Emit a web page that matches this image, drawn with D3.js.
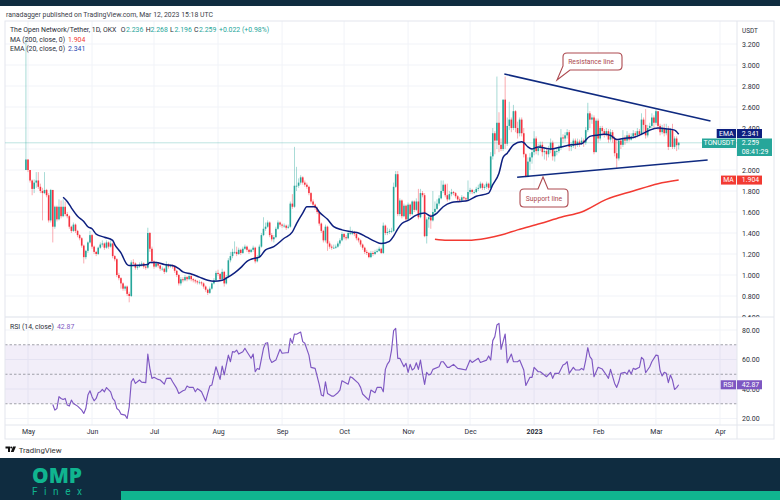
<!DOCTYPE html>
<html>
<head>
<meta charset="utf-8">
<script src="https://cdn.jsdelivr.net/npm/d3@7"></script>
<style>
  html, body { margin: 0; padding: 0; background: #fff; }
  svg { display: block; }
  text { font-family: Roboto, sans-serif; }
</style>
</head>
<body>
<div id="chart"></div>
<script>
// daily candles, first one is Apr 30 2022, open is the close of the day before
var firstDay = new Date(2022, 3, 30);
var firstOpen = 2.00;

var closes = [
  2.10, 2.00, 1.90, 1.82, 1.88, 1.90, 1.84, 1.80, 1.78, 1.81,
  1.76, 1.52, 1.81, 1.46, 1.65, 1.53, 1.65, 1.56, 1.65, 1.58,
  1.56, 1.46, 1.42, 1.48, 1.42, 1.38, 1.35, 1.28, 1.17, 1.23,
  1.31, 1.38, 1.27, 1.22, 1.20, 1.26, 1.29, 1.30, 1.26, 1.31,
  1.27, 1.30, 1.18, 1.15, 1.00, 0.97, 0.92, 0.87, 0.89, 0.82,
  0.80, 1.12, 1.11, 1.07, 1.08, 1.10, 1.11, 1.08, 1.07, 1.40,
  1.25, 1.13, 1.08, 1.11, 1.09, 1.06, 1.06, 1.03, 1.10, 1.08,
  1.09, 1.08, 1.04, 1.00, 0.92, 0.96, 0.95, 0.98, 0.96, 0.99,
  0.96, 0.95, 0.94, 0.93, 0.93, 0.92, 0.89, 0.86, 0.83, 0.87,
  0.92, 0.95, 1.02, 1.01, 0.96, 1.03, 0.92, 0.98, 1.14, 1.18,
  1.22, 1.22, 1.20, 1.24, 1.21, 1.25, 1.27, 1.24, 1.22, 1.24,
  1.26, 1.13, 1.17, 1.27, 1.38, 1.44, 1.46, 1.50, 1.38, 1.34,
  1.36, 1.44, 1.50, 1.48, 1.47, 1.47, 1.45, 1.46, 1.68, 1.65,
  1.85, 1.85, 1.88, 1.93, 1.88, 1.86, 1.84, 1.78, 1.70, 1.67,
  1.64, 1.60, 1.49, 1.42, 1.33, 1.46, 1.30, 1.27, 1.26, 1.26,
  1.27, 1.30, 1.33, 1.39, 1.36, 1.35, 1.40, 1.40, 1.40, 1.39,
  1.35, 1.33, 1.29, 1.26, 1.22, 1.21, 1.17, 1.21, 1.20, 1.22,
  1.23, 1.25, 1.21, 1.47, 1.40, 1.41, 1.42, 1.42, 1.84, 1.96,
  1.58, 1.71, 1.56, 1.66, 1.53, 1.67, 1.58, 1.70, 1.62, 1.70,
  1.55, 1.78, 1.76, 1.37, 1.53, 1.55, 1.52, 1.60, 1.63, 1.68,
  1.73, 1.80, 1.86, 1.76, 1.72, 1.77, 1.79, 1.78, 1.75, 1.72,
  1.71, 1.74, 1.73, 1.72, 1.79, 1.81, 1.79, 1.79, 1.82, 1.83,
  1.87, 1.83, 1.84, 1.87, 1.83, 2.13, 2.35, 2.28, 2.45, 2.24,
  2.20, 2.67, 2.25, 2.42, 2.48, 2.40, 2.56, 2.40, 2.35, 2.48,
  2.35, 2.15, 1.94, 2.08, 2.12, 2.17, 2.30, 2.18, 2.21, 2.24,
  2.17, 2.18, 2.15, 2.19, 2.26, 2.13, 2.18, 2.18, 2.21, 2.31,
  2.30, 2.33, 2.36, 2.22, 2.23, 2.28, 2.24, 2.27, 2.25, 2.28,
  2.26, 2.38, 2.54, 2.48, 2.50, 2.17, 2.47, 2.30, 2.40, 2.37,
  2.34, 2.37, 2.29, 2.36, 2.30, 2.16, 2.11, 2.28, 2.24, 2.30,
  2.28, 2.33, 2.29, 2.32, 2.35, 2.33, 2.37, 2.34, 2.48, 2.43,
  2.33, 2.40, 2.42, 2.50, 2.45, 2.56, 2.42, 2.36, 2.40, 2.35,
  2.39, 2.22, 2.38, 2.22, 2.30, 2.236, 2.259
];

var highs = [
  3.26, 2.10, 2.00, 1.91, 1.91, 1.98, 1.98, 1.87, 1.83, 1.98,
  1.82, 1.78, 1.82, 1.81, 1.66, 1.66, 1.72, 1.71, 1.72, 1.70,
  1.60, 1.57, 1.47, 1.50, 1.49, 1.43, 1.39, 1.36, 1.29, 1.24,
  1.32, 1.42, 1.39, 1.28, 1.23, 1.27, 1.31, 1.33, 1.31, 1.33,
  1.32, 1.33, 1.31, 1.19, 1.16, 1.02, 0.98, 0.93, 0.90, 0.90,
  0.84, 1.14, 1.15, 1.12, 1.10, 1.12, 1.13, 1.12, 1.09, 1.45,
  1.41, 1.27, 1.14, 1.13, 1.12, 1.10, 1.08, 1.07, 1.13, 1.11,
  1.10, 1.10, 1.09, 1.05, 1.01, 0.98, 0.98, 1.00, 0.99, 1.01,
  1.00, 0.97, 0.96, 0.95, 0.95, 0.94, 0.93, 0.90, 0.87, 0.89,
  0.93, 0.97, 1.04, 1.05, 1.02, 1.06, 1.04, 1.00, 1.16, 1.22,
  1.25, 1.32, 1.27, 1.26, 1.25, 1.27, 1.29, 1.28, 1.25, 1.25,
  1.28, 1.27, 1.19, 1.29, 1.40, 1.55, 1.50, 1.52, 1.51, 1.40,
  1.38, 1.46, 1.52, 1.51, 1.49, 1.49, 1.48, 1.48, 1.70, 1.77,
  2.22, 2.03, 1.92, 1.95, 1.94, 1.90, 1.88, 1.85, 1.79, 1.72,
  1.68, 1.65, 1.61, 1.50, 1.43, 1.48, 1.47, 1.32, 1.29, 1.29,
  1.29, 1.32, 1.35, 1.41, 1.40, 1.38, 1.42, 1.46, 1.43, 1.42,
  1.40, 1.36, 1.34, 1.30, 1.27, 1.24, 1.22, 1.23, 1.23, 1.24,
  1.25, 1.27, 1.26, 1.50, 1.48, 1.45, 1.44, 1.45, 1.88, 1.99,
  1.99, 1.73, 1.72, 1.68, 1.67, 1.69, 1.68, 1.71, 1.71, 1.73,
  1.82, 1.82, 1.80, 1.78, 1.55, 1.58, 1.58, 1.80, 1.70, 1.72,
  1.76, 1.90, 1.90, 1.87, 1.87, 1.80, 1.82, 1.80, 1.79, 1.76,
  1.74, 1.76, 1.75, 1.74, 1.90, 1.83, 1.82, 1.81, 1.84, 1.86,
  1.89, 1.88, 1.86, 1.89, 1.88, 2.17, 2.40, 2.37, 2.89, 2.55,
  2.30, 2.67, 2.89, 2.50, 2.65, 2.50, 2.62, 2.57, 2.46, 2.50,
  2.50, 2.40, 2.16, 2.12, 2.16, 2.20, 2.37, 2.32, 2.25, 2.27,
  2.27, 2.22, 2.20, 2.23, 2.30, 2.28, 2.20, 2.21, 2.24, 2.39,
  2.34, 2.36, 2.39, 2.38, 2.26, 2.30, 2.30, 2.30, 2.29, 2.31,
  2.30, 2.41, 2.64, 2.56, 2.53, 2.52, 2.49, 2.49, 2.42, 2.42,
  2.39, 2.40, 2.39, 2.39, 2.38, 2.32, 2.30, 2.30, 2.30, 2.38,
  2.33, 2.37, 2.35, 2.35, 2.38, 2.37, 2.40, 2.39, 2.54, 2.50,
  2.58, 2.43, 2.45, 2.54, 2.52, 2.58, 2.56, 2.44, 2.43, 2.44,
  2.44, 2.42, 2.40, 2.44, 2.32, 2.32, 2.268
];

var lows = [
  2.00, 1.98, 1.88, 1.76, 1.78, 1.83, 1.82, 1.78, 1.52, 1.77,
  1.74, 1.50, 1.50, 1.31, 1.44, 1.51, 1.52, 1.54, 1.55, 1.56,
  1.54, 1.44, 1.40, 1.41, 1.40, 1.36, 1.33, 1.26, 1.11, 1.15,
  1.21, 1.30, 1.25, 1.20, 1.18, 1.19, 1.25, 1.27, 1.24, 1.25,
  1.25, 1.26, 1.16, 1.13, 0.98, 0.95, 0.87, 0.85, 0.85, 0.80,
  0.74, 0.79, 1.09, 1.05, 1.05, 1.07, 1.08, 1.06, 1.05, 1.06,
  1.22, 1.11, 1.06, 1.07, 1.07, 1.04, 1.04, 1.01, 1.02, 1.06,
  1.07, 1.06, 1.02, 0.98, 0.90, 0.90, 0.93, 0.94, 0.94, 0.95,
  0.94, 0.93, 0.92, 0.91, 0.91, 0.90, 0.87, 0.84, 0.81, 0.82,
  0.86, 0.91, 0.94, 0.99, 0.94, 0.95, 0.89, 0.91, 0.97, 1.12,
  1.16, 1.20, 1.18, 1.19, 1.19, 1.20, 1.24, 1.22, 1.20, 1.21,
  1.22, 1.11, 1.12, 1.16, 1.26, 1.37, 1.42, 1.45, 1.36, 1.32,
  1.31, 1.35, 1.43, 1.46, 1.45, 1.45, 1.43, 1.44, 1.45, 1.63,
  1.64, 1.80, 1.83, 1.86, 1.86, 1.84, 1.82, 1.76, 1.68, 1.65,
  1.62, 1.58, 1.47, 1.40, 1.31, 1.31, 1.23, 1.25, 1.24, 1.25,
  1.25, 1.26, 1.28, 1.32, 1.34, 1.33, 1.34, 1.38, 1.38, 1.37,
  1.33, 1.31, 1.27, 1.24, 1.20, 1.19, 1.16, 1.16, 1.18, 1.19,
  1.21, 1.22, 1.20, 1.20, 1.38, 1.38, 1.39, 1.40, 1.41, 1.83,
  1.56, 1.56, 1.54, 1.55, 1.51, 1.52, 1.56, 1.57, 1.60, 1.61,
  1.53, 1.54, 1.74, 1.36, 1.30, 1.45, 1.44, 1.51, 1.58, 1.62,
  1.66, 1.72, 1.78, 1.74, 1.70, 1.71, 1.75, 1.76, 1.73, 1.70,
  1.69, 1.70, 1.71, 1.70, 1.71, 1.77, 1.77, 1.77, 1.78, 1.80,
  1.82, 1.81, 1.81, 1.82, 1.81, 1.82, 2.10, 2.15, 2.20, 2.17,
  2.18, 2.18, 2.20, 2.23, 2.38, 2.36, 2.38, 2.36, 2.30, 2.32,
  2.32, 2.12, 1.93, 1.93, 2.00, 2.06, 2.14, 2.15, 2.14, 2.18,
  2.13, 2.10, 2.09, 2.12, 2.16, 2.09, 2.08, 2.14, 2.16, 2.19,
  2.26, 2.27, 2.30, 2.18, 2.18, 2.21, 2.20, 2.22, 2.22, 2.24,
  2.22, 2.24, 2.36, 2.40, 2.44, 2.15, 2.17, 2.26, 2.28, 2.33,
  2.31, 2.32, 2.26, 2.27, 2.26, 2.13, 2.01, 2.09, 2.20, 2.22,
  2.24, 2.26, 2.27, 2.28, 2.30, 2.30, 2.31, 2.32, 2.33, 2.36,
  2.30, 2.31, 2.37, 2.40, 2.40, 2.43, 2.38, 2.33, 2.34, 2.32,
  2.33, 2.19, 2.22, 2.20, 2.20, 2.18, 2.196
];

// EMA 20 (day number, value)
var emaDays = [18, 20, 22, 25, 28, 30, 32, 34, 38, 42, 43, 46, 49, 50, 52, 59, 60, 63, 67, 71,
  74, 76, 80, 84, 88, 91, 95, 97, 101, 104, 107, 109, 113, 116, 120, 125, 129, 131, 134, 136,
  140, 142, 146, 149, 153, 158, 161, 165, 169, 172, 176, 178, 180, 182, 185, 189, 193, 196, 199, 202,
  206, 210, 214, 218, 224, 226, 229, 231, 233, 236, 240, 241, 243, 245, 248, 254, 259, 264, 269, 273,
  276, 280, 283, 286, 289, 294, 299, 302, 306, 311, 314, 316];
var emaValues = [1.74, 1.70, 1.64, 1.56, 1.51, 1.46, 1.44, 1.39, 1.36, 1.33, 1.29, 1.21, 1.10, 1.09, 1.09, 1.10, 1.12, 1.12, 1.10, 1.09,
  1.06, 1.03, 1.01, 0.98, 0.95, 0.94, 0.95, 0.97, 1.02, 1.07, 1.13, 1.15, 1.17, 1.24, 1.27, 1.35, 1.41, 1.49, 1.59, 1.65,
  1.65, 1.60, 1.53, 1.46, 1.43, 1.41, 1.40, 1.36, 1.32, 1.30, 1.32, 1.37, 1.44, 1.49, 1.52, 1.57, 1.59, 1.56, 1.59, 1.65,
  1.69, 1.70, 1.71, 1.75, 1.78, 1.86, 1.97, 2.12, 2.16, 2.24, 2.27, 2.26, 2.22, 2.20, 2.22, 2.20, 2.22, 2.24, 2.25, 2.32,
  2.33, 2.34, 2.33, 2.29, 2.30, 2.31, 2.35, 2.38, 2.40, 2.39, 2.38, 2.341];

// MA 200
var maDays = [198, 204, 214, 223, 230, 238, 249, 259, 269, 281, 294, 306, 316];
var maValues = [1.34, 1.33, 1.33, 1.35, 1.38, 1.43, 1.49, 1.55, 1.60, 1.72, 1.80, 1.87, 1.904];

// RSI 14
var rsiDays = [13, 14, 15, 16, 17, 18, 19, 20, 21, 22, 23, 25, 27, 28, 29, 30, 31, 32, 33, 34,
  35, 36, 37, 38, 39, 41, 42, 43, 44, 45, 46, 48, 49, 50, 51, 52, 53, 55, 56, 58,
  59, 60, 61, 62, 64, 65, 67, 68, 70, 71, 73, 74, 76, 77, 78, 79, 81, 82, 83, 84,
  85, 87, 88, 89, 90, 92, 94, 95, 96, 98, 99, 100, 101, 102, 103, 105, 106, 107, 109, 110,
  111, 112, 113, 115, 116, 117, 118, 119, 121, 123, 124, 126, 127, 128, 129, 130, 131, 133, 134, 135,
  137, 138, 140, 142, 143, 144, 145, 146, 148, 149, 151, 152, 153, 156, 157, 158, 161, 162, 163, 166,
  167, 169, 170, 172, 173, 174, 175, 176, 177, 178, 179, 180, 181, 183, 184, 185, 186, 187, 188, 189,
  190, 191, 192, 193, 194, 195, 196, 197, 200, 201, 202, 204, 205, 207, 209, 211, 213, 215, 216, 219,
  220, 223, 224, 225, 226, 227, 228, 229, 230, 231, 232, 233, 235, 236, 238, 239, 241, 242, 244, 245,
  246, 248, 249, 251, 252, 254, 255, 256, 258, 260, 261, 262, 263, 265, 266, 268, 269, 270, 271, 272,
  273, 274, 275, 277, 279, 281, 282, 283, 285, 286, 287, 288, 290, 291, 292, 293, 294, 295, 297, 298,
  299, 300, 302, 303, 305, 306, 307, 308, 309, 310, 311, 312, 313, 314, 315, 316];
var rsiValues = [29.5, 25.7, 26.8, 34.8, 33.6, 32.9, 33.6, 29.1, 28.4, 32.5, 30.2, 28.4, 25.7, 23.4, 26.8, 35.9, 38.8, 34.8, 32, 33.6,
  37.5, 38.1, 39.7, 38.1, 41, 38.1, 33.6, 32, 26.8, 25.7, 23, 22.3, 20, 27.9, 44.9, 47, 43.8, 46.1, 44.7, 44.3,
  63.7, 54, 47.2, 47.9, 46.5, 46.1, 43.3, 47.2, 47.4, 44.9, 40.4, 37, 38.8, 39.3, 42, 41.1, 41.1, 38.1, 40.2, 39.3,
  38.1, 31.8, 37, 42, 42.7, 55.1, 46.5, 55.6, 49.5, 63, 58.5, 65.3, 65, 66.4, 63.7, 65.3, 67.6, 65.3, 60.8, 63.7,
  51.7, 53.9, 53.3, 67.6, 71, 71.4, 60.8, 58, 59.6, 66.9, 64.2, 64.6, 64.6, 74.3, 71, 77.3, 77.1, 78.6, 72.1, 71,
  63, 54.7, 54, 42.9, 36, 35.2, 44.9, 37, 35.2, 35.2, 37.5, 39.3, 45.6, 43.3, 48.3, 47.6, 43.8, 41.1, 36.6, 32.5,
  39.3, 37.5, 41.1, 41.1, 38.1, 53.3, 56.9, 58.9, 66.4, 79.6, 81.1, 60.8, 60.8, 55.1, 57.4, 51.3, 56.7, 52.9, 54, 57.8,
  53.3, 59.6, 50.6, 43.1, 51.3, 49.5, 50.1, 53.3, 55.1, 58.5, 58.5, 54.7, 54.7, 56.7, 54, 53.5, 52.9, 59.6, 58, 60.8,
  58, 59.6, 62.4, 59.6, 72.8, 75.5, 83.4, 84.5, 66.9, 72.1, 77.3, 57.8, 63.7, 58.5, 58.5, 59.6, 52.9, 42.4, 47.9, 47.9,
  54.7, 51.7, 51.7, 49.5, 48.3, 51.3, 47.2, 50.6, 50.6, 56.2, 56.9, 58.5, 50.6, 54.7, 52.9, 52.9, 54, 52.9, 59.6, 68,
  61.9, 60.1, 48.3, 54.7, 53.5, 49.5, 47.2, 53.3, 43.8, 41.1, 44.9, 50.6, 51.3, 50.1, 52.9, 50.1, 54, 53.3, 54.7, 61.4,
  60.1, 51, 55.1, 58.5, 63, 62.6, 52.4, 48.8, 51.3, 50.6, 44.3, 49.5, 46.1, 39.7, 40.9, 42.87];

// hand drawn trend lines on the chart (day number, price)
var resistanceDays = [231.6, 331.4];
var resistanceValues = [2.914, 2.467];
var supportDays = [237.8, 330];
var supportValues = [1.93, 2.095];

var priceGrid = [3.2, 3.0, 2.8, 2.6, 2.4, 2.2, 2.0, 1.8, 1.6, 1.4, 1.2, 1.0, 0.8, 0.6];
// 2.200 sits behind the price tags in the picture
var priceTicks = [3.2, 3.0, 2.8, 2.6, 2.4, 2.0, 1.8, 1.6, 1.4, 1.2, 1.0, 0.8, 0.6];
var rsiTicks = [80, 60, 40, 20];
var rsiBands = [70, 50, 30];
var monthDates = [[2022, 4], [2022, 5], [2022, 6], [2022, 7], [2022, 8], [2022, 9], [2022, 10], [2022, 11], [2023, 0], [2023, 1], [2023, 2], [2023, 3]];
var monthLabels = ['May', 'Jun', 'Jul', 'Aug', 'Sep', 'Oct', 'Nov', 'Dec', '2023', 'Feb', 'Mar', 'Apr'];

var lastClose = 2.259;
var lastEma = 2.341;
var lastMa = 1.904;
var lastRsi = 42.87;

// colours
var navy = '#0f2c40';
var green = '#10b48f';
var up = '#26a69a';
var down = '#f5333f';
var emaColor = '#0d1f7f';
var maColor = '#f23a32';
var rsiColor = '#7e57c2';
var gridColor = '#f1f3f8';
var borderColor = '#e3e6ed';
var textColor = '#2a2e39';

var width = 780;
var height = 500;

// pane boxes
var left = 5, right = 737, outerRight = 774;
var top_ = 21, paneBottom = 317, timeTop = 425, bottom = 439;

var svg = d3.select('#chart').append('svg')
    .attr('width', width)
    .attr('height', height);

svg.append('rect').attr('width', width).attr('height', height).attr('fill', '#fff');

var months = monthDates.map(d => new Date(d[0], d[1], 1));

function dayDate(n) {
    return d3.timeDay.offset(firstDay, n);
}

// fractional day numbers for the trend line ends
function dayX(n) {
    return x(dayDate(Math.floor(n))) + (n - Math.floor(n)) * (x(dayDate(1)) - x(dayDate(0)));
}

var x = d3.scaleTime()
    .domain([months[0], months[months.length - 1]])
    .range([28, 720]);

var y = d3.scaleLinear().domain([3.0, 0.8]).range([65, 296]);
var yRsi = d3.scaleLinear().domain([80, 20]).range([330, 418.5]);

// clip for the price pane and its axis
var defs = svg.append('defs');
defs.append('clipPath').attr('id', 'clipPlot').append('rect')
    .attr('x', left).attr('y', top_).attr('width', right - left).attr('height', paneBottom - top_);
defs.append('clipPath').attr('id', 'clipAxis').append('rect')
    .attr('x', 0).attr('y', top_).attr('width', 40).attr('height', paneBottom - top_);

// the reference is a soft jpeg, take the edge off the thin marks
defs.append('filter').attr('id', 'soft')
    .append('feGaussianBlur').attr('stdDeviation', 0.3);

// grid
var grid = svg.append('g');
grid.selectAll('.vgrid').data(months).enter().append('line')
    .attr('x1', d => x(d)).attr('x2', d => x(d))
    .attr('y1', top_).attr('y2', timeTop)
    .attr('stroke', gridColor);
grid.selectAll('.hgrid').data(priceGrid).enter().append('line')
    .attr('x1', left).attr('x2', right)
    .attr('y1', d => y(d)).attr('y2', d => y(d))
    .attr('stroke', gridColor);
grid.selectAll('.rgrid').data(rsiTicks).enter().append('line')
    .attr('x1', left).attr('x2', right)
    .attr('y1', d => yRsi(d)).attr('y2', d => yRsi(d))
    .attr('stroke', gridColor);

// RSI band
svg.append('rect')
    .attr('x', left).attr('width', right - left)
    .attr('y', yRsi(rsiBands[0]))
    .attr('height', yRsi(rsiBands[2]) - yRsi(rsiBands[0]))
    .attr('fill', rsiColor).attr('opacity', 0.1);
svg.selectAll('.band').data(rsiBands).enter().append('line')
    .attr('x1', left).attr('x2', right)
    .attr('y1', d => yRsi(d)).attr('y2', d => yRsi(d))
    .attr('stroke', '#8b8d96').attr('stroke-width', 0.8)
    .attr('stroke-dasharray', '2.5,2');

// frame
var frame = svg.append('g').attr('fill', 'none').attr('stroke', borderColor);
frame.append('rect').attr('x', left).attr('y', top_).attr('width', outerRight - left).attr('height', bottom - top_);
frame.append('line').attr('x1', left).attr('x2', outerRight).attr('y1', paneBottom).attr('y2', paneBottom);
frame.append('line').attr('x1', left).attr('x2', outerRight).attr('y1', timeTop).attr('y2', timeTop);
frame.append('line').attr('x1', right).attr('x2', right).attr('y1', top_).attr('y2', bottom);

// last price line
svg.append('line')
    .attr('x1', left).attr('x2', right)
    .attr('y1', y(lastClose)).attr('y2', y(lastClose))
    .attr('stroke', up).attr('opacity', 0.3);

// candles
var opens = [firstOpen].concat(closes.slice(0, -1));
var candles = closes.map((c, i) => ({ day: i, open: opens[i], close: c, high: highs[i], low: lows[i] }));

var plot = svg.append('g').attr('clip-path', 'url(#clipPlot)');
var candleGroup = plot.append('g').attr('filter', 'url(#soft)');
candleGroup.selectAll('.wick').data(candles).enter().append('line')
    .attr('x1', d => x(dayDate(d.day))).attr('x2', d => x(dayDate(d.day)))
    .attr('y1', d => y(d.high)).attr('y2', d => y(d.low))
    .attr('stroke', d => d.close >= d.open ? up : down)
    .attr('stroke-width', 0.9)
    .attr('opacity', 0.45);
candleGroup.selectAll('.body').data(candles).enter().append('rect')
    .attr('x', d => x(dayDate(d.day)) - 0.8)
    .attr('width', 1.6)
    .attr('y', d => y(Math.max(d.open, d.close)))
    .attr('height', d => Math.max(0.8, Math.abs(y(d.open) - y(d.close))))
    .attr('fill', d => d.close >= d.open ? up : down);

// indicator lines
function drawLine(days, values, yScale, color, w, curve) {
    var line = d3.line()
        .x((d, i) => dayX(days[i]))
        .y(d => yScale(d))
        .curve(curve || d3.curveLinear);
    return svg.append('path')
        .attr('d', line(values))
        .attr('fill', 'none')
        .attr('stroke', color)
        .attr('stroke-width', w)
        .attr('stroke-linejoin', 'round');
}

drawLine(emaDays, emaValues, y, emaColor, 1.5, d3.curveMonotoneX);
drawLine(maDays, maValues, y, maColor, 1.5, d3.curveMonotoneX);
drawLine(resistanceDays, resistanceValues, y, '#0f2a80', 1.5);
drawLine(supportDays, supportValues, y, '#0f2a80', 1.5);
drawLine(rsiDays, rsiValues, yRsi, rsiColor, 1.15);

// callouts
function callout(path, label, tx, ty) {
    svg.append('path')
        .attr('d', path)
        .attr('fill', '#fff')
        .attr('stroke', '#ad4a50')
        .attr('stroke-width', 1.1);
    svg.append('text')
        .attr('x', tx).attr('y', ty)
        .attr('text-anchor', 'middle')
        .attr('font-size', 6.8)
        .attr('fill', '#ad4a50')
        .text(label);
}
callout('M567,53 H618 Q622,53 622,57 V66 Q622,70 618,70 H570 L557,80 L563,66 V57 Q563,53 567,53 Z', 'Resistance line', 591, 64);
callout('M524,189 H538 L543,177 L548,189 H564 Q568,189 568,193 V203 Q568,207 564,207 H524 Q520,207 520,203 V193 Q520,189 524,189 Z', 'Support line', 544, 200.5);

// axes
var priceAxis = d3.axisRight(y)
    .tickValues(priceTicks)
    .tickSize(0)
    .tickPadding(5)
    .tickFormat(d3.format('.3f'));
var gPrice = svg.append('g')
    .attr('transform', `translate(${right},0)`)
    .attr('clip-path', 'url(#clipAxis)')
    .call(priceAxis);

var rsiAxis = d3.axisRight(yRsi)
    .tickValues(rsiTicks)
    .tickSize(0)
    .tickPadding(5)
    .tickFormat(d3.format('.2f'));
var gRsi = svg.append('g')
    .attr('transform', `translate(${right},0)`)
    .call(rsiAxis);

var timeAxis = d3.axisBottom(x)
    .tickValues(months)
    .tickSize(0)
    .tickPadding(5)
    .tickFormat((d, i) => monthLabels[i]);
var gTime = svg.append('g')
    .attr('transform', `translate(0,${timeTop - 1})`)
    .call(timeAxis);

[gPrice, gRsi, gTime].forEach(function(g) {
    g.select('.domain').remove();
    g.selectAll('text')
        .attr('fill', textColor)
        .style('font-family', 'Roboto, sans-serif')
        .style('font-size', '7px');
});
gTime.selectAll('text').filter((d, i) => monthLabels[i] === '2023').style('font-weight', 700);

svg.append('text').attr('x', 742).attr('y', 32.5)
    .attr('font-size', 6.4).attr('fill', textColor).text('USDT');

// labels on the right scale
function tag(x0, x1, yTop, h, color, label, anchorX) {
    svg.append('rect').attr('x', x0).attr('y', yTop).attr('width', x1 - x0).attr('height', h).attr('fill', color);
    svg.append('text').attr('x', anchorX).attr('y', yTop + 6.8)
        .attr('text-anchor', 'middle')
        .attr('font-size', 6.9).attr('fill', '#fff').text(label);
}
tag(716.7, 736, 129, 9, emaColor, 'EMA', 726.3);
tag(737, 762, 129, 9, emaColor, lastEma.toFixed(3), 750.5);
tag(702, 736, 138.5, 9.5, up, 'TONUSDT', 719);
tag(737, 772, 138.5, 17.5, up, lastClose.toFixed(3), 750.5);
svg.append('text').attr('x', 755).attr('y', 154)
    .attr('text-anchor', 'middle').attr('font-size', 6.9).attr('fill', '#fff').text('08:41:29');
tag(721, 736, y(lastMa) - 4.5, 9, maColor, 'MA', 728.5);
tag(737, 762, y(lastMa) - 4.5, 9, maColor, lastMa.toFixed(3), 750.5);
tag(720.7, 736, yRsi(lastRsi) - 4.5, 9, rsiColor, 'RSI', 728.3);
tag(737, 762, yRsi(lastRsi) - 4.5, 9, rsiColor, lastRsi.toFixed(2), 750.5);

// legends
function legendText(tx, ty, str, color) {
    svg.append('text').attr('x', tx).attr('y', ty)
        .attr('font-size', 6.9).attr('fill', color).text(str);
}
legendText(6, 17, 'ranadagger published on TradingView.com, Mar 12, 2023 15:18 UTC', '#3a3e49');
legendText(10, 32, 'The Open Network/Tether, 1D, OKX', textColor);
legendText(120.7, 32, 'O', textColor);
legendText(126, 32, '2.236', up);
legendText(145.7, 32, 'H', textColor);
legendText(150.5, 32, '2.268', up);
legendText(170, 32, 'L', textColor);
legendText(174.5, 32, '2.196', up);
legendText(194, 32, 'C', textColor);
legendText(199, 32, '2.259', up);
legendText(219, 32, '+0.022 (+0.98%)', up);
legendText(10, 41.5, 'MA (200, close, 0)', textColor);
legendText(68, 41.5, lastMa.toFixed(3), maColor);
legendText(10, 51, 'EMA (20, close, 0)', textColor);
legendText(68, 51, lastEma.toFixed(3), '#2947b0');
legendText(10, 328.5, 'RSI (14, close)', textColor);
legendText(57, 328.5, lastRsi.toFixed(2), rsiColor);

// TradingView mark
svg.append('path').attr('d', 'M5.5,446.5 H10 V452 H8 V448.5 H5.5 Z M10.8,452 L13,446.5 H16 L13.6,452 Z').attr('fill', '#111');
svg.append('circle').attr('cx', 11.2).attr('cy', 447.6).attr('r', 1).attr('fill', '#111');
svg.append('text').attr('x', 18.7).attr('y', 452.5).attr('font-size', 7.8).attr('fill', '#333').text('TradingView');

// page bars
svg.append('rect').attr('width', width).attr('height', 6).attr('fill', navy);
svg.append('rect').attr('y', 458).attr('width', width).attr('height', 42).attr('fill', navy);
svg.append('rect').attr('x', 121).attr('y', 491).attr('width', 659).attr('height', 9).attr('fill', green);

// logo
svg.append('text').attr('x', 57).attr('y', 483)
    .attr('text-anchor', 'middle')
    .attr('font-size', 21).attr('font-weight', 800)
    .attr('fill', green).attr('textLength', 50).attr('lengthAdjust', 'spacingAndGlyphs')
    .style('font-family', '"Open Sans", sans-serif')
    .text('OMP');
svg.append('text').attr('x', 32).attr('y', 495)
    .attr('font-size', 10).attr('fill', green)
    .attr('textLength', 50)
    .text('Finex');
</script>
</body>
</html>
